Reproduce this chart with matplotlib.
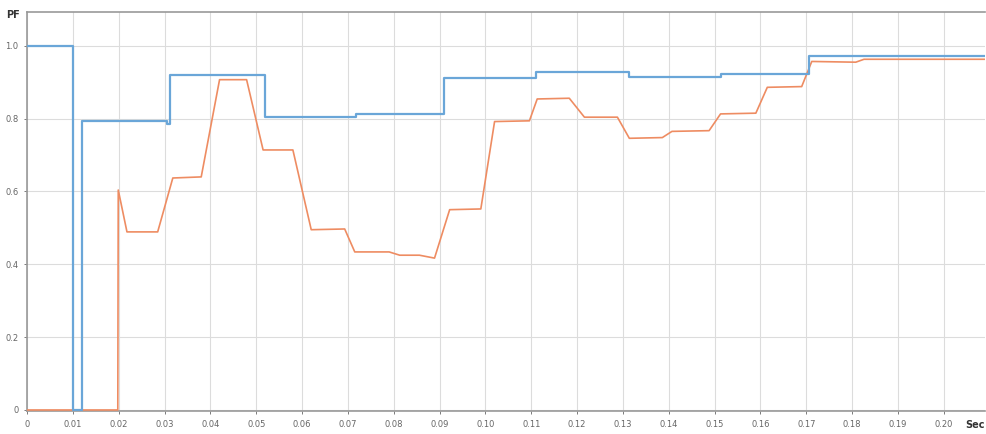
import matplotlib
matplotlib.use("Agg")
import matplotlib.pyplot as plt

# ======================
# DATA
# ======================
# blue trace: step signal (time in sec, PF value held until next time)
blue_t = [0, 0.00995, 0.012, 0.0305, 0.0312, 0.0519, 0.0718, 0.091,
          0.111, 0.1314, 0.1513, 0.1706, 0.209]
blue_pf = [1.0, 0.0, 0.793, 0.785, 0.92, 0.804, 0.813, 0.911,
           0.928, 0.913, 0.922, 0.971, 0.971]

# orange trace: smoothed PF
orange_t = [0, 0.0198, 0.0199, 0.0218, 0.0285, 0.0318, 0.038, 0.042, 0.0479,
            0.0515, 0.058, 0.062, 0.0693, 0.0715, 0.079, 0.0813, 0.0856,
            0.0889, 0.0922, 0.099, 0.102, 0.1096, 0.1113, 0.1183, 0.1216,
            0.1288, 0.1314, 0.1386, 0.1407, 0.1488, 0.1513, 0.159, 0.1615,
            0.169, 0.1712, 0.1808, 0.1826, 0.209]
orange_pf = [0.0, 0.0, 0.604, 0.489, 0.489, 0.637, 0.64, 0.907, 0.907,
             0.714, 0.714, 0.495, 0.497, 0.434, 0.434, 0.425, 0.425,
             0.417, 0.55, 0.552, 0.792, 0.794, 0.854, 0.856, 0.804,
             0.804, 0.746, 0.748, 0.765, 0.767, 0.813, 0.815, 0.886,
             0.888, 0.957, 0.955, 0.963, 0.963]

x_ticks = [i / 100 for i in range(21)]
x_labels = ["0"] + [f"{v:.2f}" for v in x_ticks[1:]]
y_ticks = [0, 0.2, 0.4, 0.6, 0.8, 1.0]
y_labels = ["0", "0.2", "0.4", "0.6", "0.8", "1.0"]

# ======================
# PLOT
# ======================
fig = plt.figure(figsize=(9.87, 4.34), dpi=100)
ax = fig.add_axes([0.0274, 0.052, 0.9706, 0.9205])

ax.plot(orange_t, orange_pf, color="#ee8c62", lw=1.2, zorder=3)
ax.step(blue_t, blue_pf, where="post", color="#6aa6d8", lw=1.6, zorder=4)

ax.set_xlim(0, 0.209)
ax.set_ylim(-0.004, 1.093)
ax.set_xticks(x_ticks)
ax.set_xticklabels(x_labels)
ax.set_yticks(y_ticks)
ax.set_yticklabels(y_labels)
ax.tick_params(labelsize=6, colors="#666666", length=2, width=0.6, pad=4)
ax.grid(True, color="#dcdcdc", lw=0.8)
ax.set_axisbelow(True)

for side in ["left", "bottom", "top"]:
    ax.spines[side].set_color("#999999")
    ax.spines[side].set_linewidth(1.2)
ax.spines["right"].set_visible(False)

fig.text(0.013, 0.965, "PF", fontsize=7, fontweight="bold", color="#333333",
         ha="center", va="center")
fig.text(0.988, 0.02, "Sec", fontsize=7, fontweight="bold", color="#333333",
         ha="center", va="center")

fig.savefig("out.png", dpi=100)
